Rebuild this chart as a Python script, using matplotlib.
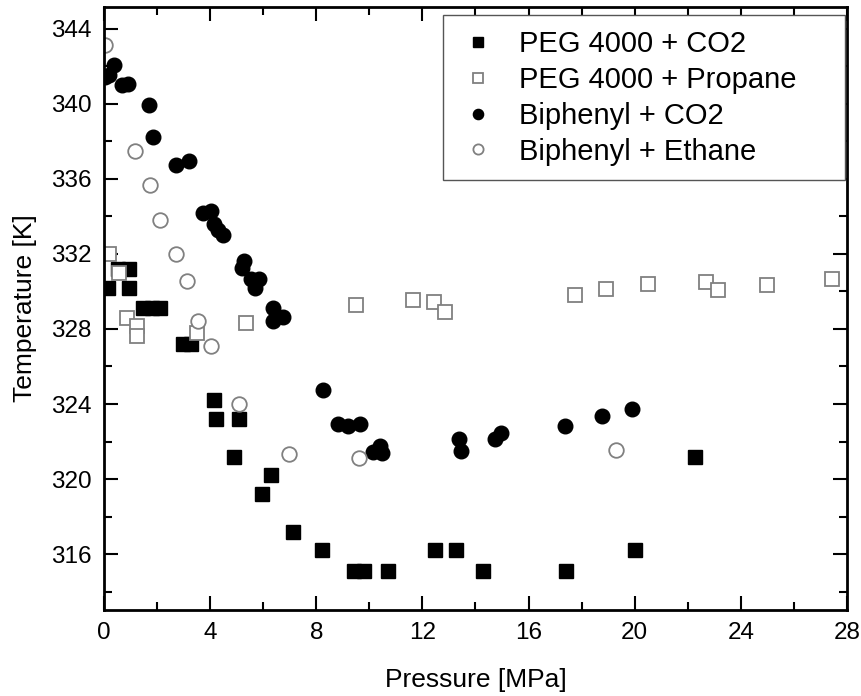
import matplotlib
matplotlib.use("Agg")
import matplotlib.pyplot as plt
from matplotlib.ticker import MultipleLocator

plt.rcParams['font.family'] = ['Liberation Sans Narrow', 'Liberation Sans', 'DejaVu Sans']

# PEG 4000 + CO2
peg_co2_p = [0.16, 0.54, 0.95, 0.95, 1.46, 1.8, 2.11, 2.96, 3.27, 4.16, 4.22, 5.07, 4.9,
             6.29, 5.97, 7.12, 8.21, 9.43, 9.8, 10.7, 12.47, 13.26, 14.27, 17.4, 20.02, 22.27]
peg_co2_t = [330.2, 331.2, 331.2, 330.2, 329.1, 329.1, 329.1, 327.2, 327.2, 324.2, 323.2, 323.2, 321.2,
             320.2, 319.2, 317.2, 316.2, 315.1, 315.1, 315.1, 316.2, 316.2, 315.1, 315.1, 316.2, 321.2]

# PEG 4000 + Propane
peg_prop_p = [0.19, 0.58, 0.88, 1.25, 1.25, 3.49, 5.34, 9.5, 11.64, 12.43, 12.87, 17.75,
              18.9, 20.49, 22.68, 23.15, 24.99, 27.44]
peg_prop_t = [332.0, 331.0, 328.6, 328.15, 327.6, 327.8, 328.3, 329.27, 329.53, 329.44, 328.91, 329.8,
              330.13, 330.4, 330.49, 330.08, 330.33, 330.67]

# Biphenyl + CO2
bip_co2_p = [0.38, 0.05, 0.2, 0.69, 0.92, 1.71, 1.86, 2.73, 3.2, 3.74, 4.02, 4.14, 4.29, 4.5,
             5.28, 5.19, 5.53, 5.84, 5.69, 6.36, 6.38, 6.76, 8.27, 8.83, 9.2, 9.64, 10.15,
             10.4, 10.46, 13.39, 13.44, 14.73, 14.96, 17.36, 18.78, 19.88]
bip_co2_t = [342.04, 341.4, 341.5, 340.98, 341.03, 339.95, 338.22, 336.72, 336.92, 334.2, 334.29, 333.58,
             333.26, 332.99, 331.61, 331.22, 330.65, 330.65, 330.16, 329.09, 328.43, 328.61, 324.74,
             322.93, 322.83, 322.93, 321.46, 321.76, 321.41, 322.14, 321.51, 322.12, 322.44, 322.83,
             323.34, 323.72]

# Biphenyl + Ethane
bip_eth_p = [0.04, 1.17, 1.73, 2.11, 2.7, 3.14, 3.55, 4.04, 5.08, 6.97, 9.62, 19.31]
bip_eth_t = [343.14, 337.46, 335.65, 333.79, 331.98, 330.55, 328.43, 327.08, 324.0, 321.32, 321.14, 321.55]

fig = plt.figure(figsize=(8.62, 6.96), dpi=100)
ax = fig.add_axes([0.1206, 0.1236, 0.862, 0.8664])

ax.plot(peg_co2_p, peg_co2_t, 's', color='black', ms=9.5, mec='black', label='PEG 4000 + CO2')
ax.plot(peg_prop_p, peg_prop_t, 's', mfc='white', mec='#808080', mew=1.3, ms=9.5, label='PEG 4000 + Propane')
ax.plot(bip_co2_p, bip_co2_t, 'o', color='black', ms=10.5, label='Biphenyl + CO2')
ax.plot(bip_eth_p, bip_eth_t, 'o', mfc='white', mec='#808080', mew=1.3, ms=10.5, label='Biphenyl + Ethane')

ax.set_xlim(0, 28)
ax.set_ylim(313.03, 345.15)
ax.xaxis.set_major_locator(MultipleLocator(4))
ax.xaxis.set_minor_locator(MultipleLocator(2))
ax.yaxis.set_major_locator(MultipleLocator(4))
ax.yaxis.set_minor_locator(MultipleLocator(2))
ax.tick_params(which='both', direction='in', top=True, right=True, width=1.5, labelsize=17.5, pad=9)
ax.tick_params(which='major', length=10)
ax.tick_params(which='minor', length=6)
for s in ax.spines.values():
    s.set_linewidth(2)

ax.set_xlabel('Pressure [MPa]', fontsize=19, labelpad=17)
ax.set_ylabel('Temperature [K]', fontsize=19, labelpad=10)

leg = ax.legend(loc='upper left', bbox_to_anchor=(0.456, 0.5, 0.541, 0.486), mode='expand',
                fontsize=21, fancybox=False, edgecolor='#555555', framealpha=1, markerscale=0.7,
                handletextpad=0.7, borderpad=0.5, labelspacing=0.27, handlelength=1.4,
                borderaxespad=0, prop={'family': ['Liberation Sans', 'DejaVu Sans'], 'size': 21})
leg.get_frame().set_linewidth(1.0)

fig.savefig('out.png', dpi=100)
